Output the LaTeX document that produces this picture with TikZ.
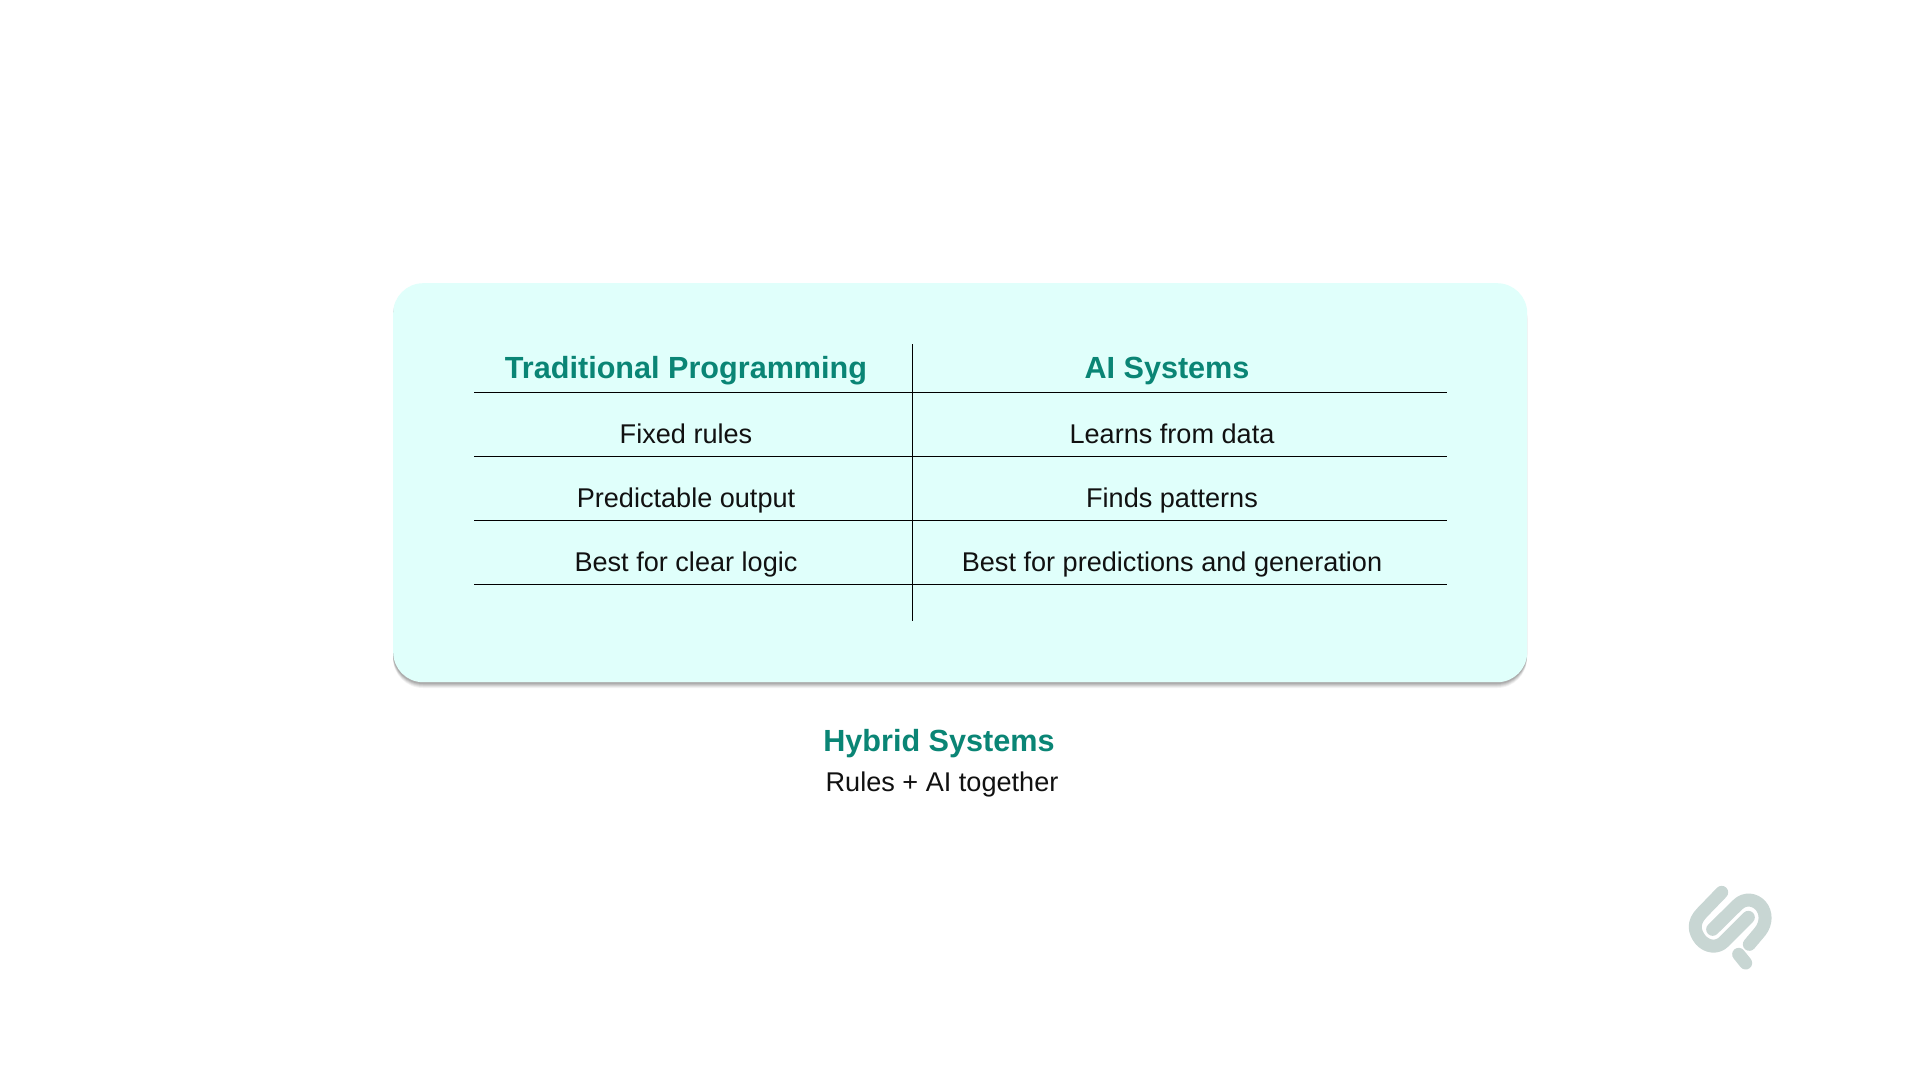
\documentclass[tikz,border=0pt]{standalone}
\usepackage{fontspec}
\setmainfont{Liberation Sans}
\definecolor{teal1}{HTML}{0A8575}
\definecolor{cardc}{HTML}{E0FFFB}
\definecolor{inkc}{HTML}{111111}
\definecolor{logoc}{HTML}{C8D6D3}
\tikzset{
 head/.style={anchor=base,inner sep=0pt,text=teal1,font=\fontsize{30.6}{34}\selectfont\bfseries},
 cell/.style={anchor=base,inner sep=0pt,text=inkc,font=\fontsize{27.1}{32}\selectfont},
 rule/.style={draw=black,line width=1pt},
 logostroke/.style={draw=logoc,line width=13pt,line cap=round,line join=round}
}
\begin{document}
\begin{tikzpicture}[x=1pt,y=-1pt]
\useasboundingbox (0,0) rectangle (1920,1080);
\fill[white] (0,0) rectangle (1920,1080);
% shadow
\foreach \d/\o in {6/0.05,5/0.06,4/0.07,3/0.08,2/0.10}{
 \fill[black,opacity=\o,rounded corners=30pt] (393,283+\d) rectangle (1527,682+\d);
}
\node[draw=none,fill=cardc,rounded corners=30pt,minimum width=1134pt,minimum height=399pt,inner sep=0pt,anchor=north west] (card) at (393,283) {};
% rules
\coordinate (l0) at (474,392.8); \coordinate (r0) at (1447,392.8);
\coordinate (l1) at (474,456.8); \coordinate (r1) at (1447,456.8);
\coordinate (l2) at (474,520.8); \coordinate (r2) at (1447,520.8);
\coordinate (l3) at (474,584.8); \coordinate (r3) at (1447,584.8);
\coordinate (vt) at (912.5,344); \coordinate (vb) at (912.5,621);
\draw[rule] (l0) -- (r0);
\draw[rule] (l1) -- (r1);
\draw[rule] (l2) -- (r2);
\draw[rule] (l3) -- (r3);
\draw[rule] (vt) -- (vb);
% text
\node[head] (h1) at (686,378) {Traditional Programming};
\node[head] (h2) at (1167,378) {AI Systems};
\node[cell] (a1) at (686,443) {Fixed rules};
\node[cell] (b1) at (1172,443) {Learns from data};
\node[cell] (a2) at (686,507.5) {Predictable output};
\node[cell] (b2) at (1172,507.5) {Finds patterns};
\node[cell] (a3) at (686,571.5) {Best for clear logic};
\node[cell] (b3) at (1172,571.5) {Best for predictions and generation};
\node[head] (h3) at (939,751.5) {Hybrid Systems};
\node[cell] (c1) at (942,791) {Rules + AI together};
% logo
\begin{scope}[shift={(1660,860)},x=0.3333pt,y=-0.3333pt]
\draw[logostroke] (185,97) -- (127,157) .. controls (97,187) and (102,215) .. (122,240) .. controls (142,262) and (172,265) .. (192,245) -- (265,172);
\draw[logostroke] (158,208) -- (232,135) .. controls (255,112) and (285,118) .. (302,137) .. controls (320,158) and (320,190) .. (300,215) -- (268,253);
\draw[logostroke] (236,283) -- (257,309);
\end{scope}
\end{tikzpicture}
\end{document}
